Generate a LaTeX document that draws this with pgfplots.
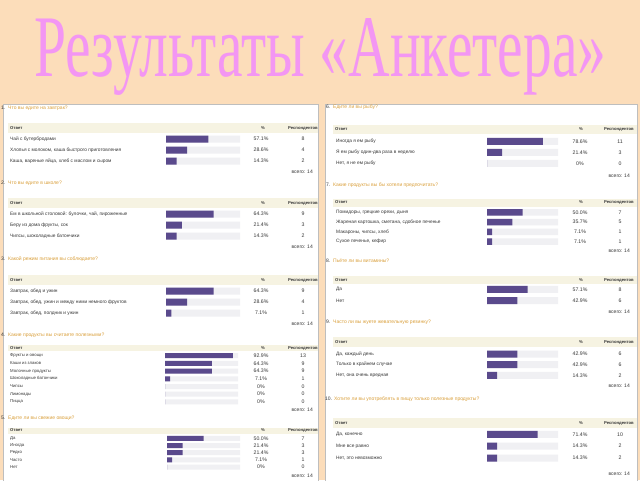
\documentclass[border=0pt]{standalone}
\usepackage{pgfplots}
\pgfplotsset{compat=1.18}
\usepackage{fontspec}
\usepackage{graphicx}
\setmainfont{Liberation Sans}
\newfontfamily\titlefont{Liberation Serif}
\definecolor{peach}{RGB}{252,221,186}
\definecolor{tpink}{RGB}{243,150,243}
\definecolor{barp}{RGB}{90,74,140}
\definecolor{track}{RGB}{240,240,243}
\definecolor{hdr}{RGB}{246,243,226}
\definecolor{qcol}{RGB}{218,160,60}
\definecolor{txt}{RGB}{55,55,55}
\definecolor{bord}{RGB}{190,190,190}

% #1 x, #2 top, #3 width, #4 height, #5 n, #6 bar width, #7 track coords, #8 value coords
\newcommand{\qplot}[8]{%
\begin{axis}[at={(#1pt,-#2pt)},anchor=north west,scale only axis,width=#3pt,height=#4pt,
 xmin=0,xmax=100,ymin=0.5,ymax=#5.5,y dir=reverse,hide axis,xbar,bar width=#6pt,clip=false]
\addplot[fill=track,draw=none,bar shift=0pt] coordinates {#7};
\addplot[fill=barp,draw=none,bar shift=0pt] coordinates {#8};
\end{axis}}
% question title: #1 x num, #2 x text, #3 y, #4 num, #5 text
\newcommand{\qt}[5]{%
\node[anchor=west,inner sep=0,font=\fontsize{5}{6}\selectfont,text=txt] at (#1pt,-#3pt) {#4.};
\node[anchor=west,inner sep=0,font=\fontsize{5}{6}\selectfont,text=qcol] at (#2pt,-#3pt) {#5};}
% header: #1 x1 #2 x2 #3 y #4 half h #5 xpct #6 xresp
\newcommand{\hd}[6]{%
\fill[hdr] (#1pt,-#3pt+#4pt) rectangle (#2pt,-#3pt-#4pt);
\node[anchor=west,inner sep=0,font=\bfseries\fontsize{4.2}{5}\selectfont,text=txt] at (#1pt+2pt,-#3pt) {Ответ};
\node[inner sep=0,font=\bfseries\fontsize{4.2}{5}\selectfont,text=txt] at (#5pt,-#3pt) {\%};
\node[inner sep=0,font=\bfseries\fontsize{4.2}{5}\selectfont,text=txt] at (#6pt,-#3pt) {Респондентов};}
% row: #1 xans #2 xpct #3 xresp #4 y #5 text #6 pct #7 resp #8 size
\newcommand{\rw}[8]{%
\node[anchor=west,inner sep=0,font=\fontsize{#8}{6}\selectfont,text=txt] at (#1pt,-#4pt) {#5};
\node[inner sep=0,font=\fontsize{5.2}{6}\selectfont,text=txt] at (#2pt,-#4pt) {#6\%};
\node[inner sep=0,font=\fontsize{5.2}{6}\selectfont,text=txt] at (#3pt,-#4pt) {#7};}
\newcommand{\tot}[2]{\node[anchor=east,inner sep=0,font=\fontsize{5}{6}\selectfont,text=txt] at (#1pt,-#2pt) {всего: 14};}

\begin{document}
\begin{tikzpicture}
\useasboundingbox (0,0) rectangle (640pt,-480pt);
\fill[peach] (0,0) rectangle (640pt,-480pt);
\node[anchor=base west,inner sep=0] at (34pt,-76pt) {\resizebox{572pt}{58pt}{\titlefont\color{tpink}Результаты «Анкетера»}};
\fill[white,draw=bord,line width=0.6pt] (3pt,-104pt) rectangle (318pt,-481pt);
\fill[white,draw=bord,line width=0.6pt] (325pt,-104pt) rectangle (637pt,-481pt);

% ===== LEFT PANEL =====
\begin{scope}
\clip (3pt,-104pt) rectangle (318pt,-480pt);
\hd{8}{318}{128}{5}{263}{303}
\rw{10}{261}{303}{139}{Чай с бутербродами}{57.1}{8}{4.8}
\rw{10}{261}{303}{150}{Хлопья с молоком, каша быстрого приготовления}{28.6}{4}{4.8}
\rw{10}{261}{303}{161}{Каша, вареные яйца, хлеб с маслом и сыром}{14.3}{2}{4.8}
\qplot{166}{133.5}{74}{33}{3}{7}{(100,1) (100,2) (100,3)}{(57.1,1) (28.6,2) (14.3,3)}
\tot{313}{172}

\hd{8}{318}{203}{5}{263}{303}
\rw{10}{261}{303}{214}{Ем в школьной столовой: булочки, чай, пироженные}{64.3}{9}{4.8}
\rw{10}{261}{303}{225}{Беру из дома фрукты, сок}{21.4}{3}{4.8}
\rw{10}{261}{303}{236}{Чипсы, шоколадные батончики}{14.3}{2}{4.8}
\qplot{166}{208.5}{74}{33}{3}{7}{(100,1) (100,2) (100,3)}{(64.3,1) (21.4,2) (14.3,3)}
\tot{313}{247}

\hd{8}{318}{280}{5}{263}{303}
\rw{10}{261}{303}{291}{Завтрак, обед и ужин}{64.3}{9}{4.8}
\rw{10}{261}{303}{302}{Завтрак, обед, ужин и между ними немного фруктов}{28.6}{4}{4.8}
\rw{10}{261}{303}{313}{Завтрак, обед, полдник и ужин}{7.1}{1}{4.8}
\qplot{166}{285.5}{74}{33}{3}{7}{(100,1) (100,2) (100,3)}{(64.3,1) (28.6,2) (7.1,3)}
\tot{313}{324}

\hd{8}{318}{348}{3}{263}{303}
\rw{10}{261}{303}{355.7}{Фрукты и овощи}{92.9}{13}{4.3}
\rw{10}{261}{303}{363.4}{Каши из злаков}{64.3}{9}{4.3}
\rw{10}{261}{303}{371.1}{Молочные продукты}{64.3}{9}{4.3}
\rw{10}{261}{303}{378.8}{Шоколадные батончики}{7.1}{1}{4.3}
\rw{10}{261}{303}{386.5}{Чипсы}{0}{0}{4.3}
\rw{10}{261}{303}{394.2}{Лимонады}{0}{0}{4.3}
\rw{10}{261}{303}{401.9}{Пицца}{0}{0}{4.3}
\qplot{165}{351.85}{73}{53.9}{7}{5}{(100,1) (100,2) (100,3) (100,4) (100,5) (100,6) (100,7)}{(92.9,1) (64.3,2) (64.3,3) (7.1,4) (0,5) (0,6) (0,7)}
\tot{313}{410}

\hd{8}{318}{430.5}{3}{263}{303}
\rw{10}{261}{303}{438.3}{Да}{50.0}{7}{4.3}
\rw{10}{261}{303}{445.5}{Иногда}{21.4}{3}{4.3}
\rw{10}{261}{303}{452.7}{Редко}{21.4}{3}{4.3}
\rw{10}{261}{303}{459.9}{Часто}{7.1}{1}{4.3}
\rw{10}{261}{303}{467.1}{Нет}{0}{0}{4.3}
\qplot{167}{434.7}{73}{36}{5}{5}{(100,1) (100,2) (100,3) (100,4) (100,5)}{(50.0,1) (21.4,2) (21.4,3) (7.1,4) (0,5)}
\tot{313}{476}
\end{scope}
\qt{1}{8}{108}{1}{Что вы едите на завтрак?}
\qt{1}{8}{183}{2}{Что вы едите в школе?}
\qt{1}{8}{259}{3}{Какой режим питания вы соблюдаете?}
\qt{1}{8}{335}{4}{Какие продукты вы считаете полезными?}
\qt{1}{8}{418}{5}{Едите ли вы свежие овощи?}

% ===== RIGHT PANEL =====
\begin{scope}
\clip (325pt,-104pt) rectangle (637pt,-480pt);
\qt{326}{333}{107}{6}{Едите ли вы рыбу?}
\hd{333}{637}{129}{4.5}{581}{619}
\rw{336}{580}{620}{141.3}{Иногда я ем рыбу}{78.6}{11}{4.8}
\rw{336}{580}{620}{152.3}{Я ем рыбу один-два раза в неделю}{21.4}{3}{4.8}
\rw{336}{580}{620}{163.3}{Нет, я не ем рыбу}{0}{0}{4.8}
\qplot{487}{135.8}{71}{33}{3}{7}{(100,1) (100,2) (100,3)}{(78.6,1) (21.4,2) (0,3)}
\tot{630}{175.5}

\qt{326}{333}{185}{7}{Какие продукты вы бы хотели предпочитать?}
\hd{333}{637}{202.5}{4}{581}{619}
\rw{336}{580}{620}{212.3}{Помидоры, грецкие орехи, дыня}{50.0}{7}{4.8}
\rw{336}{580}{620}{222.1}{Жареная картошка, сметана, сдобное печенье}{35.7}{5}{4.8}
\rw{336}{580}{620}{231.9}{Макароны, чипсы, хлеб}{7.1}{1}{4.8}
\rw{336}{580}{620}{241.7}{Сухое печенье, кефир}{7.1}{1}{4.8}
\qplot{487}{207.4}{71}{39.2}{4}{6.5}{(100,1) (100,2) (100,3) (100,4)}{(50.0,1) (35.7,2) (7.1,3) (7.1,4)}
\tot{630}{251}

\qt{326}{333}{261}{8}{Пьёте ли вы витамины?}
\hd{333}{637}{280}{4}{581}{619}
\rw{336}{580}{620}{289.3}{Да}{57.1}{8}{4.8}
\rw{336}{580}{620}{300.7}{Нет}{42.9}{6}{4.8}
\qplot{487}{283.6}{71}{22.8}{2}{7}{(100,1) (100,2)}{(57.1,1) (42.9,2)}
\tot{630}{311.5}

\qt{326}{333}{322}{9}{Часто ли вы жуете жевательную резинку?}
\hd{333}{637}{342}{5}{581}{619}
\rw{336}{580}{620}{354}{Да, каждый день}{42.9}{6}{4.8}
\rw{336}{580}{620}{364.65}{Только в крайнем случае}{42.9}{6}{4.8}
\rw{336}{580}{620}{375.3}{Нет, она очень вредная}{14.3}{2}{4.8}
\qplot{487}{348.7}{71}{32}{3}{7}{(100,1) (100,2) (100,3)}{(42.9,1) (42.9,2) (14.3,3)}
\tot{630}{385.7}

\qt{325}{334}{399}{10}{Хотите ли вы употреблять в пищу только полезные продукты?}
\hd{333}{637}{423}{5}{581}{619}
\rw{336}{580}{620}{434.3}{Да, конечно}{71.4}{10}{4.8}
\rw{336}{580}{620}{446.15}{Мне все равно}{14.3}{2}{4.8}
\rw{336}{580}{620}{458}{Нет, это невозможно}{14.3}{2}{4.8}
\qplot{487}{428.4}{71}{35.6}{3}{7}{(100,1) (100,2) (100,3)}{(71.4,1) (14.3,2) (14.3,3)}
\tot{630}{474}
\end{scope}
\end{tikzpicture}
\end{document}
